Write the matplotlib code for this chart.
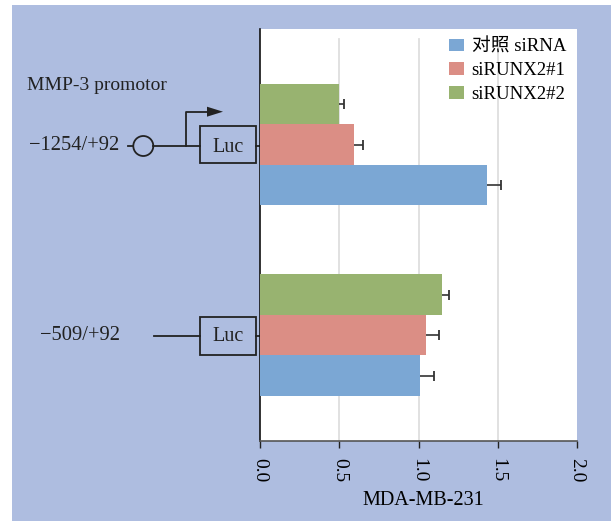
import matplotlib
matplotlib.use("Agg")
import matplotlib.pyplot as plt
from matplotlib.patches import Rectangle, Circle, FancyArrow
import numpy as np

# ---------------- data ----------------
constructs = ["\u2212509/+92", "\u22121254/+92"]   # bottom group, top group
series_names = ["对照 siRNA", "siRUNX2#1", "siRUNX2#2"]
ctrl_vals = [1.01, 1.43]
ctrl_errs = [0.09, 0.09]
sir1_vals = [1.05, 0.59]
sir1_errs = [0.08, 0.06]
sir2_vals = [1.15, 0.50]
sir2_errs = [0.04, 0.03]
xticks = [0.0, 0.5, 1.0, 1.5, 2.0]
xlabel = "MDA-MB-231"
title_text = "MMP-3 promotor"

colors = ["#7ba7d4", "#db8e85", "#98b370"]
bg = "#aebde0"
ink = "#222222"
serif = ["Liberation Serif", "Noto Sans CJK SC"]
plt.rcParams["font.family"] = serif

W, H = 611, 521
fig = plt.figure(figsize=(W / 100, H / 100), dpi=100)
fig.patch.set_facecolor("white")

# overlay axes in pixel coordinates for background and diagram
ov = fig.add_axes([0, 0, 1, 1], zorder=0)
ov.set_xlim(0, W)
ov.set_ylim(H, 0)
ov.axis("off")
ov.add_patch(Rectangle((12, 5), W - 12, H - 5, facecolor=bg, edgecolor="none"))

# main axes
L, R, T, B = 260, 577, 29, 441
ax = fig.add_axes([L / W, 1 - B / H, (R - L) / W, (B - T) / H], zorder=2)
ax.set_facecolor("white")

h = 0.2126
y = np.arange(len(constructs))
series = [(ctrl_vals, ctrl_errs, -h), (sir1_vals, sir1_errs, 0.0), (sir2_vals, sir2_errs, h)]
handles = []
for (vals, errs, off), col, name in zip(series, colors, series_names):
    b = ax.barh(y + off, vals, height=h, color=col, edgecolor="none", zorder=3, label=name)
    handles.append(b)
    vals = np.asarray(vals)
    errs = np.asarray(errs)
    ax.hlines(y + off, vals, vals + errs, color="#333333", lw=1.2, zorder=4)
    ax.plot(vals + errs, y + off, linestyle="none", marker="|", ms=6.5, mew=1.3,
            color="#333333", zorder=4)

ylo, yhi = -0.5564, 1.6063
ax.set_ylim(ylo, yhi)
ax.set_xlim(0, 2.0)
grid_top = 1.554
for xv in xticks[1:-1]:
    ax.plot([xv, xv], [ylo, grid_top], color="#dedede", lw=1.3, zorder=1)

ax.set_yticks([])
ax.set_xticks(xticks)
ax.set_xticklabels([f"{v:.1f}" for v in xticks], rotation=-90, fontsize=14, family=serif)
ax.tick_params(axis="x", length=5, width=1, color="#222222", pad=7)
for s in ["top", "right"]:
    ax.spines[s].set_visible(False)
ax.spines["left"].set_color("#111111")
ax.spines["left"].set_linewidth(1.2)
ax.spines["bottom"].set_color("#555555")
ax.spines["bottom"].set_linewidth(1.2)
ax.set_xlabel(xlabel, fontsize=14.5, family=serif)
ax.xaxis.set_label_coords((423 - L) / (R - L), -(491 - B) / (B - T))

leg = ax.legend(handles=handles, loc="upper left",
                bbox_to_anchor=(449 / W, 1 - 38 / H), bbox_transform=fig.transFigure,
                frameon=False, fontsize=13.5, handlelength=0.78, handleheight=0.62,
                handletextpad=0.42, labelspacing=0.37, borderaxespad=0, borderpad=0)

# ---------------- diagram (pixel coordinates) ----------------
lw = 1.3
ov.text(27, 86, title_text, fontsize=14, ha="left", va="center", color=ink)
ycen = [335.5, 146]
ov.text(29, ycen[1], constructs[1], fontsize=14.8, ha="left", va="center", color=ink)
ov.text(40, ycen[0], constructs[0], fontsize=14.8, ha="left", va="center", color=ink)

# top construct
yc = ycen[1]
ov.plot([128, 133.3], [yc, yc], color=ink, lw=lw)
ov.add_patch(Circle((143.3, yc), 10, facecolor="none", edgecolor=ink, lw=lw))
ov.plot([153.3, 200], [yc, yc], color=ink, lw=lw)
ov.plot([186, 186, 208], [yc, 111.7, 111.7], color=ink, lw=lw)
ov.add_patch(FancyArrow(207, 111.7, 16, 0, width=0.01, head_width=10, head_length=16,
                        length_includes_head=True, color=ink, lw=0))
ov.add_patch(Rectangle((200, 125.7), 56, 37.6, facecolor="none", edgecolor=ink, lw=lw))
ov.text(228, yc + 1, "Luc", fontsize=14.5, ha="center", va="center", color=ink)
ov.plot([256, 260], [yc, yc], color=ink, lw=lw)

# bottom construct
yc = ycen[0]
ov.plot([154.3, 200], [yc, yc], color=ink, lw=lw)
ov.add_patch(Rectangle((200, 316.5), 56, 38, facecolor="none", edgecolor=ink, lw=lw))
ov.text(228, yc + 1, "Luc", fontsize=14.5, ha="center", va="center", color=ink)
ov.plot([256, 260], [yc, yc], color=ink, lw=lw)

fig.savefig("out.png", dpi=100)
